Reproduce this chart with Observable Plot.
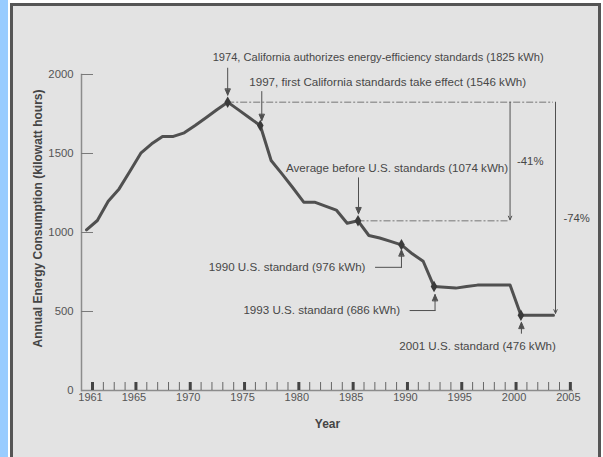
<!DOCTYPE html>
<html><head><meta charset="utf-8">
<script src="https://cdn.jsdelivr.net/npm/d3@7"></script>
<script src="https://cdn.jsdelivr.net/npm/@observablehq/plot@0.6"></script>
<style>
html,body{margin:0;padding:0;background:#fff;}
#wrap{position:relative;width:603px;height:457px;overflow:hidden;font-family:'Liberation Sans',Arial,sans-serif;}
#strip{position:absolute;left:0;top:0;width:8px;height:457px;background:#99ccff;}
#panel{position:absolute;left:10px;top:3px;width:591px;height:470px;box-sizing:border-box;border:3px solid #555;border-bottom:none;background:#e3e3e3;}
#chart{position:absolute;left:0;top:0;}
</style></head><body>
<div id="wrap"><div id="strip"></div><div id="panel"></div><div id="chart"></div></div>
<script>
// ---- data ----
const years = [1961,1962,1963,1964,1965,1966,1967,1968,1969,1970,1971,1972,1973,1974,1975,1976,1977,1978,1979,1980,1981,1982,
  1983,1984,1985,1986,1987,1988,1989,1990,1991,1992,1993,1994,1995,1996,1997,1998,1999,2000,2001,2002,2003,2004];
const consumption = [1017,1076,1198,1276,1388,1502,1561,1608,1608,1631,1677,1726,1777,1825,1776,1726,1677,1456,1371,1283,1192,1192,
  1167,1142,1059,1074,981,965,944,922,865,818,658,654,648,658,667,667,667,667,476,476,476,476];
const calloutYears = [1974,1977,1986,1990,1993,2001];
const calloutLabels = [
  "1974, California authorizes energy-efficiency standards (1825 kWh)",
  "1997, first California standards take effect (1546 kWh)",
  "Average before U.S. standards (1074 kWh)",
  "1990 U.S. standard (976 kWh)",
  "1993 U.S. standard (686 kWh)",
  "2001 U.S. standard (476 kWh)"
];
const refFrom = [1974, 1986];     // dashed reference lines start year
const refTo = [2004, 2000];       // dashed reference lines end year
const refValue = [1825, 1074];
const dropYear = [2000, 2004];
const dropFrom = [1825, 1825];
const dropTo = [1074, 476];
const dropLabel = ["-41%", "-74%"];
const yTicks = [0, 500, 1000, 1500, 2000];
const majorYears = [1961,1965,1970,1975,1980,1985,1990,1995,2000,2005];
const allYears = d3.range(1961, 2006);
const yLabel = "Annual Energy Consumption (kilowatt hours)";
const xLabel = "Year";

// ---- build ----
const series = years.map((year, i) => ({year, kwh: consumption[i]}));
const W = 603, H = 457, mL = 81, mR = 30, mT = 74, mB = 67;
const plotH = H - mT - mB, plotW = W - mL - mR;
const ink = "#505050", txt = "#474747";

const arrowShape = {draw(c, l) {
  c.moveTo(0, 0); c.lineTo(0, -l);
  c.moveTo(-2.6, -l + 6); c.lineTo(0, -l); c.lineTo(2.6, -l + 6); c.closePath();
}};
const lineShape = {draw(c, l) { c.moveTo(0, 0); c.lineTo(0, -l); }};

const calloutStyle = {
  1974: {side: "above", anchor: "start", dx: -15, dy: -45, tip: -7, len: 27, ax: 0, fs: 11.1},
  1977: {side: "above", anchor: "start", dx: -11, dy: -43, tip: -5, len: 29, ax: 1.5, fs: 11.6},
  1986: {side: "above", anchor: "start", dx: -72, dy: -52.5, tip: -7, len: 36, ax: 0.5, fs: 11.6},
  1990: {side: "left", anchor: "end", dx: -36, dy: 22.5, tip: 5, len: 17.5, leg: 26, ax: 0, fs: 11.6},
  1993: {side: "left", anchor: "end", dx: -34, dy: 24, tip: 8, len: 16, leg: 25, ax: 1, fs: 11.6},
  2001: {side: "below", anchor: "end", dx: 35, dy: 30.5, tip: 7, len: 11, ax: 0.5, fs: 11.6}
};

const calloutMarks = calloutYears.flatMap((yr, i) => {
  const p = [series.find(d => d.year === yr)];
  const s = calloutStyle[yr];
  const marks = [
    Plot.text(p, {x: "year", y: "kwh", text: () => calloutLabels[i], textAnchor: s.anchor,
      dx: s.dx, dy: s.dy, fill: txt, fontSize: s.fs})
  ];
  if (s.side === "above") {
    marks.push(Plot.vector(p, {x: "year", y: "kwh", length: s.len, rotate: 180, anchor: "end", dx: s.ax, dy: s.tip,
      shape: arrowShape, stroke: ink, fill: ink, strokeWidth: 1}));
  } else {
    marks.push(Plot.vector(p, {x: "year", y: "kwh", length: s.len, rotate: 0, anchor: "end", dx: s.ax, dy: s.tip,
      shape: arrowShape, stroke: ink, fill: ink, strokeWidth: 1}));
    if (s.leg) marks.push(Plot.vector(p, {x: "year", y: "kwh", length: s.leg, rotate: 270, anchor: "start",
      dx: s.ax, dy: s.dy, shape: lineShape, stroke: ink, strokeWidth: 1}));
  }
  return marks;
});

const refs = refValue.map((v, i) => ({v, from: refFrom[i], to: refTo[i]}));
const drops = dropYear.map((year, i) => ({year, from: dropFrom[i], to: dropTo[i], label: dropLabel[i], mid: (dropFrom[i] + dropTo[i]) / 2}));

const chart = Plot.plot({
  width: W, height: H,
  marginLeft: mL, marginRight: mR, marginTop: mT, marginBottom: mB,
  x: {domain: [1961, 2004], insetLeft: 5, insetRight: 20},
  y: {domain: [0, 2000]},
  style: {background: "transparent", fontFamily: "'Liberation Sans', Arial, sans-serif", fontSize: "11px", color: "#555"},
  marks: [
    // axes
    Plot.frame({anchor: "left", stroke: "#8c8c8c", strokeWidth: 1.5}),
    Plot.ruleY([0], {stroke: "#8c8c8c", strokeWidth: 1.5}),
    Plot.ruleY(yTicks.filter(v => v > 0), {insetRight: plotW - 12, stroke: "#7a7a7a", strokeWidth: 1}),
    Plot.axisY({ticks: yTicks, tickSize: 0, tickPadding: 8, tickFormat: d => String(d), label: null, color: "#555", fontSize: 11.3}),
    Plot.ruleX(allYears, {insetTop: plotH - 8, stroke: "#666", strokeWidth: 1, dx: 6}),
    Plot.ruleX(majorYears, {insetTop: plotH - 8, stroke: "#444", strokeWidth: 3, dx: 6}),
    Plot.axisX({ticks: majorYears, tickSize: 0, tickPadding: 3, tickFormat: d => String(d), label: null, dx: 4, color: "#555", fontSize: 11}),
    Plot.text([yLabel], {frameAnchor: "left", rotate: -90, dx: -43, dy: -14, textAnchor: "middle", lineAnchor: "middle",
      fontWeight: "bold", fontSize: 12, fill: "#454545"}),
    Plot.text([xLabel], {frameAnchor: "bottom", dy: 34, textAnchor: "middle", lineAnchor: "middle",
      fontWeight: "bold", fontSize: 12, fill: "#454545"}),
    // reference dashed lines
    Plot.ruleY(refs, {y: "v", x1: "from", x2: "to", stroke: "#9a9a9a", strokeWidth: 1.5, strokeDasharray: "7,2,2,2"}),
    // drop arrows
    Plot.arrow(drops.filter((d, i) => i === 0), {x1: "year", x2: "year", y1: "from", y2: "to", stroke: ink, strokeWidth: 1,
      headLength: 6, headAngle: 50, insetEnd: 1}),
    Plot.arrow(drops.filter((d, i) => i === 1), {x1: "year", x2: "year", y1: "from", y2: "to", stroke: ink, strokeWidth: 1,
      headLength: 6, headAngle: 50, insetEnd: 2, dx: 2}),
    Plot.text(drops.filter((d, i) => i === 0), {x: "year", y: "mid", text: "label", textAnchor: "start", dx: 7, fill: txt, fontSize: 11.3}),
    Plot.text(drops.filter((d, i) => i === 1), {x: "year", y: "mid", text: "label", textAnchor: "start", dx: 10, dy: 9.5, fill: txt, fontSize: 11.3}),
    // data
    Plot.line(series, {x: "year", y: "kwh", stroke: ink, strokeWidth: 3, strokeLinejoin: "round"}),
    Plot.dot(series.filter(d => calloutYears.includes(d.year)), {x: "year", y: "kwh", symbol: "diamond", r: 3.5, fill: "#3a3a3a"}),
    ...calloutMarks
  ]
});
document.getElementById("chart").appendChild(chart);
</script>
</body></html>
